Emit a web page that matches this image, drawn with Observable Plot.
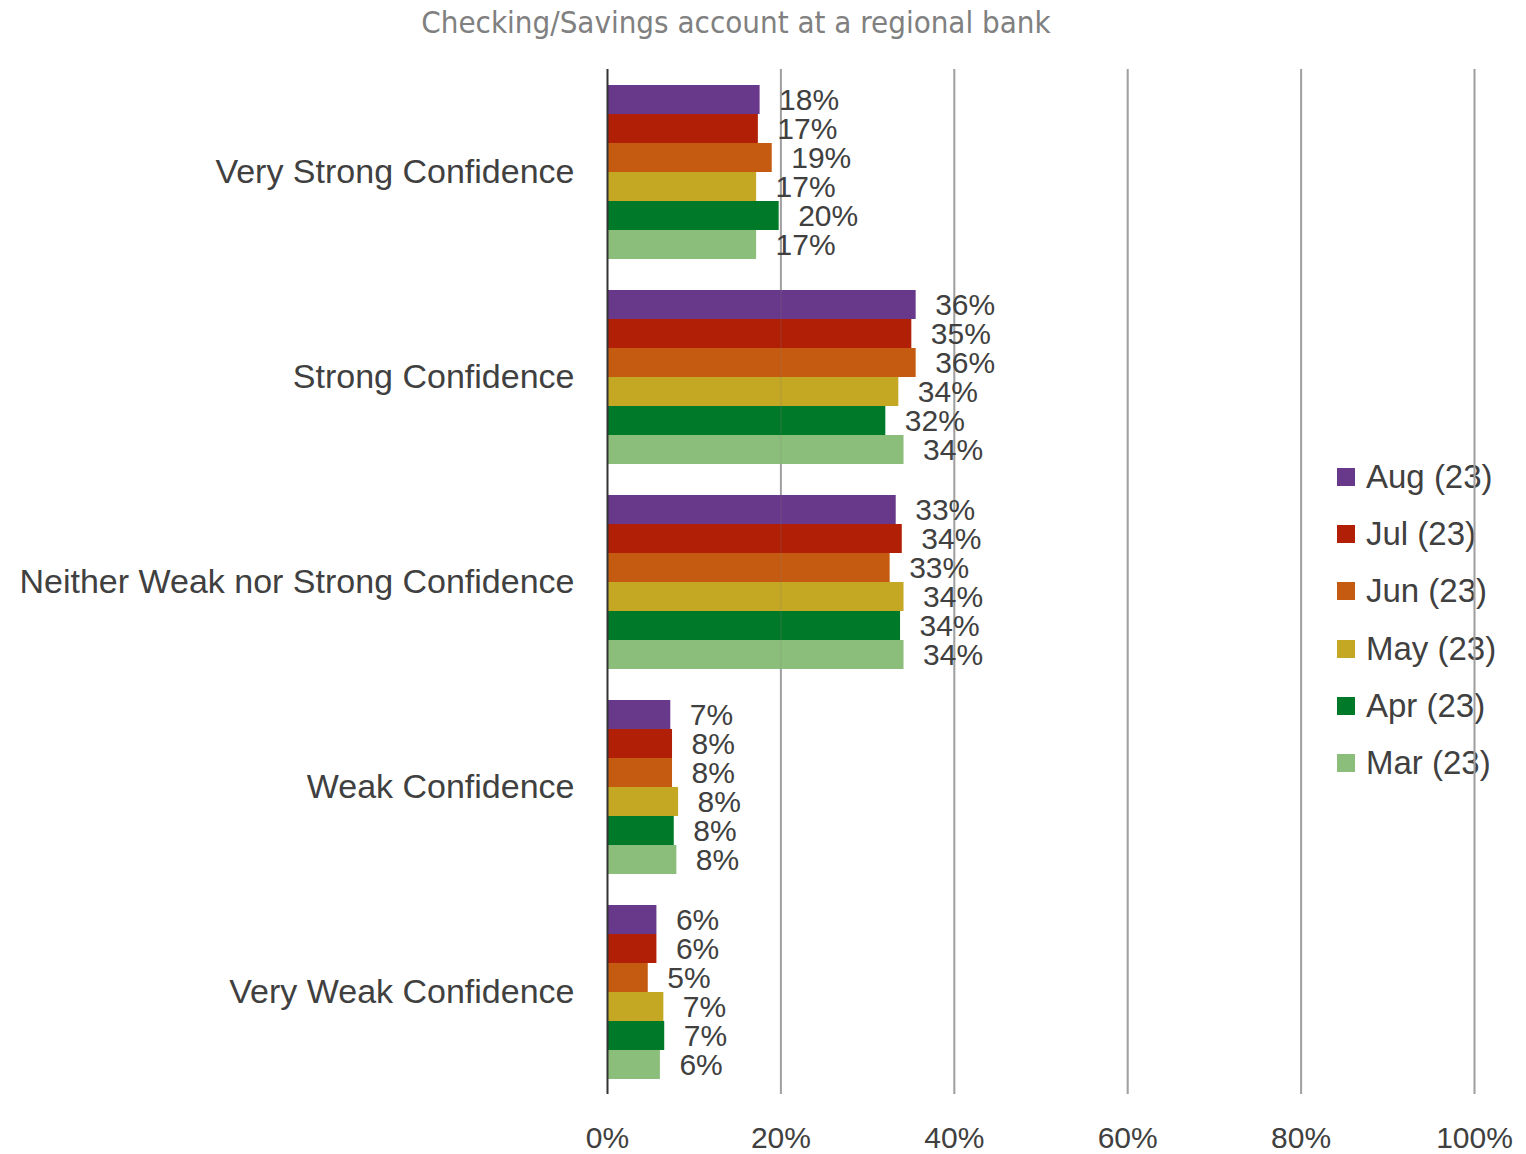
<!DOCTYPE html>
<html>
<head>
<meta charset="utf-8">
<script src="https://cdn.jsdelivr.net/npm/d3@7"></script>
<script src="https://cdn.jsdelivr.net/npm/@observablehq/plot@0.6"></script>
<style>
  html, body { margin: 0; padding: 0; background: #fff; }
  body { width: 1526px; height: 1154px; position: relative; overflow: hidden; font-family: "Liberation Sans", Arial, sans-serif; }
  #title { height: 48px; width: 1472px; text-align: center; font-family: "DejaVu Sans Condensed", "DejaVu Sans", sans-serif; font-size: 31px; color: #808080; line-height: 44px; }
  #chart { position: relative; z-index: 1; }
  #legend { position: absolute; left: 1337px; top: 448px; z-index: 0; font-size: 33px; color: #404040; }
  .item { height: 57.3px; display: flex; align-items: center; white-space: nowrap; }
  .sw { width: 18px; height: 18px; margin-right: 11px; flex: none; }
</style>
</head>
<body>
<div id="title">Checking/Savings account at a regional bank</div>
<div id="chart"></div>
<div id="legend"></div>
<script>
const categories = ["Very Strong Confidence", "Strong Confidence", "Neither Weak nor Strong Confidence", "Weak Confidence", "Very Weak Confidence"];
const months = ["Aug (23)", "Jul (23)", "Jun (23)", "May (23)", "Apr (23)", "Mar (23)"];
const colors = ["#68388a", "#b01f06", "#c55b11", "#c4a723", "#007a28", "#8bbe7a"];

// values per month, in category order
const aug = [17.6, 35.6, 33.3, 7.3, 5.7];
const jul = [17.4, 35.1, 34.0, 7.5, 5.7];
const jun = [19.0, 35.6, 32.6, 7.5, 4.7];
const may = [17.2, 33.6, 34.2, 8.2, 6.5];
const apr = [19.8, 32.1, 33.8, 7.7, 6.6];
const mar = [17.2, 34.2, 34.2, 8.0, 6.1];
const xTicks = [0, 20, 40, 60, 80, 100];

const series = [aug, jul, jun, may, apr, mar];
const data = [];
categories.forEach((c, ci) => {
  months.forEach((m, mi) => {
    data.push({category: c, month: m, value: series[mi][ci]});
  });
});

const chart = Plot.plot({
  width: 1526,
  height: 1106,
  marginTop: 21,
  marginBottom: 60,
  marginLeft: 607,
  marginRight: 52,
  style: {background: "transparent", fontFamily: "'Liberation Sans', Arial, sans-serif", color: "#404040"},
  x: {domain: [0, 100], label: null},
  y: {domain: months, paddingInner: 0, paddingOuter: 0.5, axis: null},
  fy: {domain: categories, padding: 0, label: null},
  color: {domain: months, range: colors},
  marks: [
    Plot.ruleX(xTicks.filter(d => d > 0), {stroke: "#a6a6a6", strokeWidth: 2}),
    Plot.barX(data, {x: "value", y: "month", fy: "category", fill: "month", inset: 0}),
    Plot.ruleX(xTicks.filter(d => d > 0), {stroke: "#808080", strokeWidth: 2, strokeOpacity: 0.15}),
    Plot.ruleX([0], {stroke: "#333333", strokeWidth: 2}),
    Plot.text(data, {x: "value", y: "month", fy: "category", text: d => Math.round(d.value) + "%", dx: 19, textAnchor: "start", fontSize: 30, fill: "#404040"}),
    Plot.axisFy({anchor: "left", tickSize: 0, tickPadding: 33, fontSize: 34, label: null, fill: "#404040"}),
    Plot.axisX({anchor: "bottom", ticks: xTicks, tickFormat: d => d + "%", tickSize: 0, tickPadding: 32, fontSize: 30, label: null, fill: "#404040"})
  ]
});
document.getElementById("chart").appendChild(chart);

const legend = document.getElementById("legend");
months.forEach((m, i) => {
  const item = document.createElement("div");
  item.className = "item";
  const sw = document.createElement("div");
  sw.className = "sw";
  sw.style.background = colors[i];
  const lab = document.createElement("span");
  lab.textContent = m;
  item.appendChild(sw);
  item.appendChild(lab);
  legend.appendChild(item);
});
</script>
</body>
</html>
